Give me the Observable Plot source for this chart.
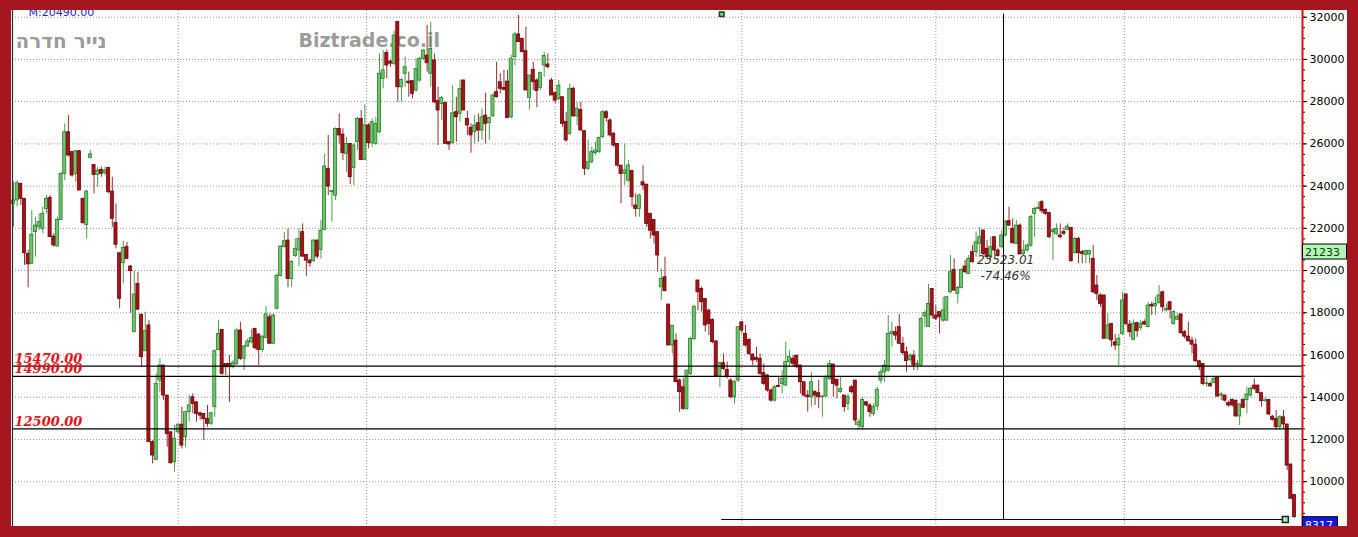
<!DOCTYPE html>
<html><head><meta charset="utf-8">
<script src="https://cdn.jsdelivr.net/npm/d3@7"></script>
<script src="https://cdn.jsdelivr.net/npm/@observablehq/plot@0.6"></script>
<style>
html,body{margin:0;padding:0;background:#a5161f;width:1358px;height:537px;overflow:hidden;}
#wrap{position:absolute;left:11px;top:10px;width:1336px;height:516px;background:#fff;overflow:hidden;}
#wrap svg{display:block;}
</style></head><body><div id="wrap"></div>
<script>
const opens=[
23160,23320,24110,23400,20790,20320,21820,22050,21970,22920,
23440,21610,21140,22400,24580,26550,25610,24580,25650,23400,
22160,25340,25000,24530,24770,24610,24860,23740,22260,20820,
20350,21110,20190,17080,19370,17910,16180,17400,11870,11030,
14790,15500,14080,12340,10920,12340,12700,12100,13290,14000,
13760,13240,13210,12970,12740,13530,16240,17190,15580,15570,
15420,15580,17160,15820,16400,16600,17240,16970,16240,16810,
17790,16530,18190,19750,21110,21420,19600,20680,20950,21820,
20740,20470,20440,21420,20980,21930,24820,23710,23550,26710,
26440,25530,26000,24860,26080,27180,25240,26870,26030,26000,
26550,29080,30300,29900,29790,31770,28680,29320,28950,28970,
28530,29000,30030,30180,29320,29950,28020,27890,27930,26080,
26030,27500,27420,29000,27180,26760,26550,26980,26630,27340,
26980,27300,28450,28920,28650,28950,27260,30110,31180,30980,
30390,28180,29510,29000,28650,29710,29760,29000,28400,28130,
28210,27030,26470,28610,27300,27610,26600,24820,25130,25560,
25610,26320,27500,27110,26470,26000,24970,24580,24260,24710,
23080,22920,24180,24070,22690,22400,21820,19210,19680,18390,
16450,16680,14790,14470,13450,15110,16760,19530,19130,18660,
18100,17660,16640,14980,15610,15290,14790,14000,14790,17550,
17000,16720,16020,15860,15820,15140,15030,14320,13840,14530,
14630,14550,15660,15820,15970,15500,14710,14080,14000,14240,
14190,14000,14030,14870,15550,14820,14240,14080,13690,14470,
14790,12660,12580,13760,13610,13210,13560,14790,15180,15260,
17000,17080,17320,16530,16130,15770,15970,15530,15500,17820,
17320,19130,17870,18030,17630,17630,18970,20030,18900,19180,
20190,19840,20870,20870,21260,21890,21030,20630,21580,20950,
21110,21660,22340,21970,21260,22130,20790,20950,21180,22690,
22920,23240,22870,22720,21820,21740,21660,21820,21930,22020,
20820,21500,20870,20740,20760,20550,19290,18820,18820,16770,
17470,16600,16450,17000,18870,17440,16720,17510,17290,17550,
17320,18380,18300,18450,18970,18110,18500,17470,17670,17920,
17080,16870,16680,16490,15700,15580,14630,14630,14670,14920,
14080,14080,13720,13870,13840,13090,13870,13870,14080,14550,
14550,14190,13820,13870,13080,12970,12580,13050,12710,10810,
9370];
const highs=[
24190,24260,24110,23400,20950,22840,22530,22690,23000,23550,
23550,21740,22530,24660,26950,27340,25610,25690,25690,23400,
23790,25690,25000,24900,24900,24900,24900,24420,23160,20820,
21390,21340,20240,19970,19920,17910,18030,17630,11950,15110,
15820,15500,14080,12340,12660,12740,13530,13290,14080,14160,
13760,13290,13210,13610,13290,16240,17630,17190,15580,15970,
15740,17240,17550,16450,16770,17190,17240,17000,16920,18300,
17950,17950,19840,21140,21810,21970,20480,21500,21970,22210,
20740,20550,21450,21450,22370,25500,26400,23800,26760,27420,
26710,26320,26030,26000,27260,27580,27860,26950,27180,27260,
30260,30420,30450,29980,31340,31770,29080,30110,29400,29000,
30030,30110,30450,31610,31760,30260,28690,28240,27980,26080,
28760,28210,29030,29030,27550,26950,27340,27420,27660,28400,
27260,28370,29870,29320,29480,29480,30190,31290,32080,30980,
31530,29240,29870,29080,29400,30340,30260,29100,28450,29000,
28210,27500,28840,28680,27970,27970,26630,26190,25840,26080,
26320,27580,27580,27190,26550,26000,24970,26000,25210,24740,
23630,23630,24970,24070,22690,22400,21820,20080,20630,18390,
17390,17000,14870,14870,15260,16840,18340,19530,19210,18660,
18180,17710,16680,15660,16050,15660,14870,14790,17320,17550,
17400,16760,16050,16370,16050,15580,15070,14400,14550,14950,
15260,16600,16210,15970,15970,15500,14710,14320,15180,14320,
14790,14080,15030,15740,15550,14870,14950,14080,14160,14550,
14790,12970,14000,13790,13690,13690,14470,15340,15740,17870,
17550,17320,17920,16840,16370,16050,16210,15740,17790,18100,
19340,19130,18340,18030,18740,18740,20710,20550,19240,20080,
20470,20710,21180,21820,22050,21930,21420,21580,21580,21030,
21890,22370,23000,22450,22370,22210,21420,21260,22610,23000,
23240,23320,22920,22770,21970,22210,22210,22020,22210,22020,
21580,21580,20950,20950,20950,21180,19760,18900,18820,17950,
17470,16980,16980,18970,18870,17630,17660,17550,17630,17660,
18500,18500,18740,19290,19020,18420,18500,18110,17950,17950,
17160,17550,16840,16760,15740,15610,14950,14710,14950,14920,
14240,14080,13820,13920,13840,13690,13920,14470,14470,14870,
14580,14240,14000,13870,13130,13370,13130,13370,12710,10840,
9370];
const lows=[
22050,23000,23080,20240,19180,20290,20630,21890,21740,22690,
21580,21110,21110,22370,24260,25370,24420,24190,23790,22210,
21500,25290,23630,23950,24420,24500,23630,22050,21030,18190,
19370,20550,17980,17080,18100,15420,16180,11870,10840,11000,
14240,13840,11630,10840,10450,12260,11550,11630,12820,13210,
12820,12900,11950,12580,12660,13050,16210,15030,15030,13760,
15340,15500,15740,15260,16370,16530,16240,15500,16130,16770,
16530,16530,18140,19690,21080,19180,19210,20630,20190,20630,
19720,20160,20400,20550,20550,21890,23550,22290,23320,26000,
25210,24660,24070,24030,25690,25210,25210,25770,25840,25920,
26480,28600,29080,29630,29710,27980,27980,28680,28210,28130,
28450,28920,29950,29400,28690,27900,25920,27100,26000,25690,
26000,26080,27030,27580,26400,25560,26000,26080,26160,26000,
26160,27260,28180,28370,28530,27230,27180,29710,30820,30340,
28530,27610,28530,27710,28530,29160,29550,28290,27900,28050,
26790,26080,26400,27260,26870,26630,24500,24740,25050,25450,
25530,26240,27030,26320,25840,24900,23160,24030,24180,23000,
22530,22530,23790,22050,21500,21260,19920,18580,19020,16450,
16050,14710,13290,13370,13370,15030,16680,18100,18030,17080,
16920,16530,14950,14470,15260,14870,13920,13680,14710,17000,
16370,15970,15500,15660,15030,14550,14240,13760,13760,14470,
14160,14550,15420,15420,15340,14160,14000,13290,13530,13610,
13450,13050,14000,14790,14000,13920,14190,13290,13370,14160,
12660,12420,12420,13530,13050,13090,13370,14630,14710,15180,
16370,16690,16530,15980,15180,15660,15260,15260,15450,17320,
17320,17710,17630,17000,17550,17600,18900,19050,18420,19130,
19840,19810,20350,20630,20710,20710,20550,20470,20710,20630,
21030,21580,22080,21260,21230,20760,20710,20870,21100,21580,
22900,22690,22610,21500,20470,21660,21500,21660,21900,20400,
20790,20320,20320,20320,20320,18900,18580,18260,16770,16770,
16370,16210,15500,16920,17400,16840,16690,16840,17130,17400,
17280,17870,17870,18420,18030,18030,17710,17400,17630,17000,
16760,16610,16050,15660,15260,14550,14480,14480,14630,14000,
13840,13760,13530,13530,13050,12660,13450,13210,14000,14320,
14160,13530,13760,13130,12870,12450,12450,12500,10530,9190,
8280];
const closes=[
23320,24140,23400,20820,20290,21690,22130,22290,22690,23400,
21580,21190,22400,24580,26550,25450,24500,25650,23790,22240,
23740,25500,24530,24740,24580,24740,23710,22450,21220,18660,
21070,20550,19970,18860,18150,15900,17130,11870,11240,14630,
15500,14080,12260,10870,12030,12700,11710,13290,13610,13680,
13210,13130,12970,12740,13240,16180,17000,15110,15420,15420,
15610,17160,15820,16400,16640,16810,16320,16240,16870,17920,
16530,17870,19750,21140,21390,19600,20400,21030,21500,20660,
20470,20340,21420,20660,21890,24930,23980,23760,26710,26400,
25560,26000,24420,25920,27180,25240,26870,26030,27030,26950,
29320,29480,29710,29800,31130,28680,29030,29630,28870,28370,
29550,30030,30420,29820,30500,27970,27580,28180,26000,25970,
27450,27260,28600,27580,26870,26400,26870,26630,27260,26950,
27230,28290,28210,28610,28560,27230,30030,31180,30820,30340,
28530,29240,28920,28500,29350,30160,29630,28290,28050,28760,
26950,26160,28610,27300,27660,26630,24820,25130,25610,25680,
26280,27500,27230,26400,25920,24970,24580,24740,24970,23470,
22920,23550,24030,22210,21890,21660,20710,19600,19020,16450,
17390,14710,14240,13450,15260,16760,18290,18970,18500,17400,
17470,16610,14980,15610,15340,14950,14000,14710,17320,17160,
16450,16050,15740,15770,15110,14630,14320,13840,14470,14480,
14870,15660,15900,15580,15420,14710,14080,14000,14710,14080,
14000,14030,14950,15580,14630,14550,14400,13530,14000,14240,
12900,12820,13870,13610,13290,13530,14350,15180,15500,17000,
17080,16920,16530,16090,15710,15970,15500,15580,17710,17980,
18420,17870,17710,17790,18110,18740,19920,19050,19180,20030,
19920,20550,20400,21340,21580,20790,20630,21110,20950,20710,
21660,22290,22130,21290,22130,20760,20950,21180,22530,22920,
22970,22810,22690,21580,21930,21970,21580,21740,22080,20440,
21500,20820,20790,20920,20920,18970,18890,18420,16770,17400,
16690,16450,16770,18580,17470,17080,17480,17130,17480,17440,
18340,18300,18420,18820,18260,18190,18140,18030,17790,17030,
16870,16650,16490,15700,15420,14630,14660,14510,14870,14030,
14130,13840,13610,13610,13090,13650,13500,14130,14400,14400,
14190,13810,13850,13180,12930,12580,13050,12710,10760,9190,
8317];

// axis ticks and marks
const majorTicks=[10000,12000,14000,16000,18000,20000,22000,24000,26000,28000,30000,32000];
const minorTicks=d3.range(8500,32001,500);
const yearIdx=[45,96.5,148,199,252,303.5];
const levels=[15470,14990,12500];
const toolIdx=[193.5,347.5];
const toolVal=[32140,8210];
const toolText="23523.01\n-74.46%";
const lastLabel=8317;
const sideLabel=21233;
const topText="M:20490.00";
const symbolName="נייר חדרה";
const siteName="Biztrade.co.il";

const idx=d3.range(opens.length);
const up=i=>closes[i]>=opens[i];
const W=1336,H=516;
const grid={stroke:"#959595",strokeOpacity:1,strokeDasharray:"1,2"};
const midI=(toolIdx[0]+toolIdx[1])/2, midV=(toolVal[0]+toolVal[1])/2;

const chart=Plot.plot({
  width:W,height:H,
  marginLeft:1,marginRight:45,marginTop:0,marginBottom:0,
  style:{background:"#fff",fontFamily:"DejaVu Sans, Verdana, sans-serif",fontSize:"11px",color:"#000"},
  x:{domain:[0,350],range:[2,1283],axis:null},
  y:{domain:[8000,32000],range:[513.4,6.7],axis:null},
  marks:[
    Plot.gridY(majorTicks,grid),
    Plot.ruleX(yearIdx,grid),
    Plot.text([topText],{frameAnchor:"top-left",textAnchor:"start",dx:16,dy:5,lineAnchor:"bottom",fill:"#2626c8",fontSize:11}),
    Plot.text([symbolName],{frameAnchor:"top-left",textAnchor:"start",dx:3,dy:23,lineAnchor:"top",fill:"#9b9b9b",fontSize:20,fontWeight:"bold"}),
    Plot.text([siteName],{frameAnchor:"top-left",textAnchor:"start",dx:286,dy:23,lineAnchor:"top",fill:"#9b9b9b",fontSize:19,fontWeight:"bold"}),
    Plot.ruleX(idx,{x:i=>i,y1:i=>lows[i],y2:i=>highs[i],stroke:i=>up(i)?"#4c9a4c":"#8e3030",strokeWidth:1}),
    Plot.rect(idx,{x1:i=>i-0.42,x2:i=>i+0.42,y1:i=>opens[i],y2:i=>closes[i],
      fill:i=>up(i)?"#6cc76c":"#a8121a",stroke:i=>up(i)?"#2c7a2c":"#6a0707",strokeWidth:0.8}),
    Plot.ruleY(levels,{stroke:"#000",strokeWidth:1.3}),
    Plot.text(levels,{y:d=>d,text:d=>d.toFixed(2),frameAnchor:"left",textAnchor:"start",dx:2,dy:-3,lineAnchor:"bottom",
      fill:"#e3141c",fontFamily:"DejaVu Serif, serif",fontWeight:"bold",fontStyle:"italic",fontSize:13}),
    Plot.ruleY([toolVal[1]],{x1:toolIdx[0],x2:toolIdx[1],stroke:"#000",strokeWidth:1}),
    Plot.ruleX([midI],{y1:toolVal[0],y2:toolVal[1],stroke:"#000",strokeWidth:1}),
    Plot.text([toolText],{x:midI,y:midV,text:d=>d,dx:2,textAnchor:"middle",lineAnchor:"middle",lineHeight:1.3,
      fill:"#333",fontStyle:"italic",fontSize:12}),
    Plot.dot([0],{x:toolIdx[0],y:toolVal[0],symbol:"square",r:2.6,fill:"#7ccf7c",stroke:"#1d3d1d"}),
    Plot.dot([0],{x:toolIdx[1],y:toolVal[1],symbol:"square",r:3.4,fill:"#a8e6a8",stroke:"#222"}),
    Plot.frame({anchor:"left",stroke:"#2a2a2a",strokeWidth:1.2}),
    Plot.axisY(minorTicks,{anchor:"right",tickSize:2,tickFormat:()=>"",label:null}),
    Plot.axisY(majorTicks,{anchor:"right",tickSize:4,tickPadding:3,tickFormat:d=>String(d),label:null,fontSize:11}),
    Plot.frame({anchor:"right",stroke:"#e40d0d",strokeWidth:2})
  ]
});
document.getElementById("wrap").appendChild(chart);

// value tags on the right axis, placed with the plot's own y scale
const ys=chart.scale("y");
const svg=d3.select(chart);
const ax=W-45;
function tag(v,fill,textFill,w){
  const y0=ys.apply(v);
  const g=svg.append("g");
  g.append("rect").attr("x",ax+0.5).attr("y",y0).attr("width",w).attr("height",15)
    .attr("fill",fill).attr("stroke","#000").attr("stroke-width",1);
  g.append("text").attr("x",ax+3).attr("y",y0+12).attr("fill",textFill).attr("text-anchor","start")
    .attr("font-family","DejaVu Sans, Verdana, sans-serif").attr("font-size",11).text(String(v));
}
tag(sideLabel,"#b4f6b4","#0b3a0b",44);
tag(lastLabel,"#1616e2","#fff",35);
</script></body></html>
